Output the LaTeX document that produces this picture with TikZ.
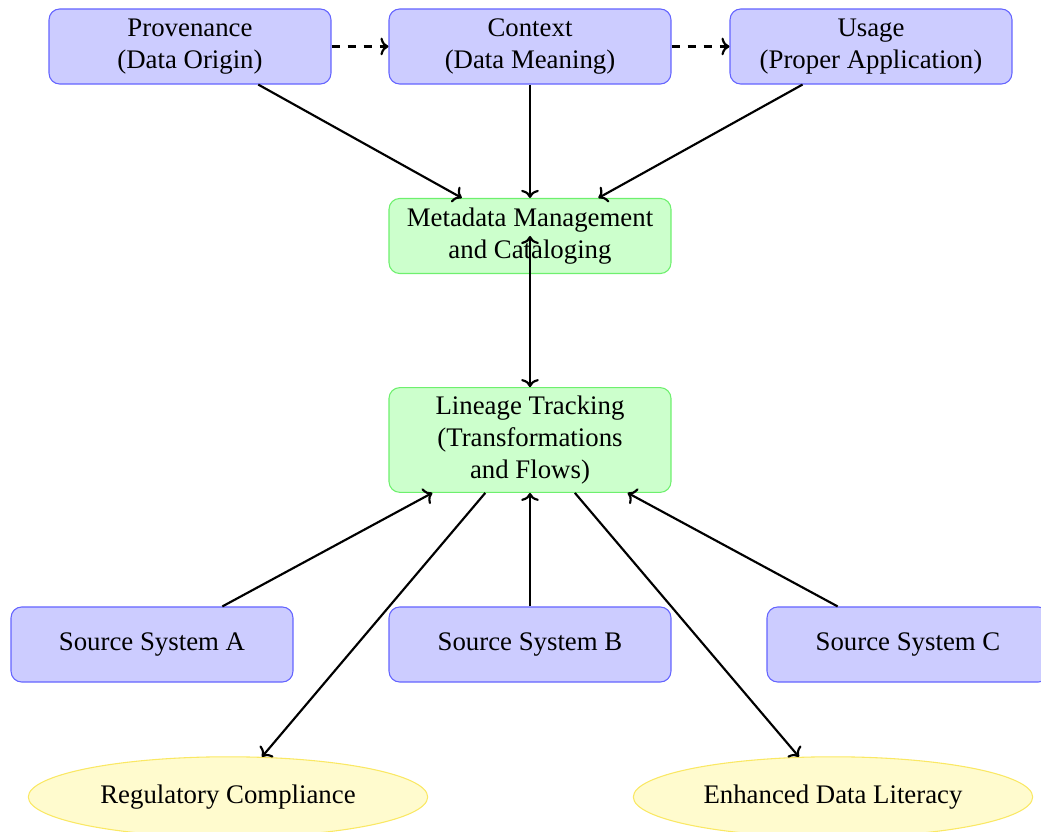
\documentclass[tikz,border=0pt]{standalone}
\usepackage{fontspec}
\setmainfont{Liberation Serif}
\usetikzlibrary{shapes.geometric,arrows.meta}
\definecolor{bluefill}{RGB}{204,204,255}
\definecolor{blueline}{RGB}{100,100,255}
\definecolor{greenfill}{RGB}{204,255,204}
\definecolor{greenline}{RGB}{110,240,110}
\definecolor{yellowfill}{RGB}{255,251,206}
\definecolor{yellowline}{RGB}{250,232,100}
\begin{document}
\begin{tikzpicture}[x=0.3731pt,y=-0.3731pt,
  box/.style={rectangle, rounded corners=4pt, align=center,
    minimum width=105.2pt, minimum height=28pt, inner xsep=2pt, inner ysep=3pt,
    font=\fontsize{10}{12}\selectfont},
  src/.style={box, draw=blueline, fill=bluefill},
  core/.style={box, draw=greenline, fill=greenfill},
  outcome/.style={ellipse, draw=yellowline, fill=yellowfill,
    minimum width=149pt, minimum height=30pt, inner sep=1pt,
    font=\fontsize{10}{12}\selectfont},
  tip/.style={-{To[length=3pt,width=6.6pt]}},
  flow/.style={tip, line width=0.8pt},
  link/.style={tip, line width=0.8pt, dashed}]
\useasboundingbox (0,0) rectangle (1041,832);

% top row: the three aspects of lineage
\node[src] (prov) at (190,46.5) {Provenance\\(Data Origin)};
\node[src] (ctx)  at (530,46.5) {Context\\(Data Meaning)};
\node[src] (use)  at (871,46.5) {Usage\\(Proper Application)};

% central processes
\node[core] (meta) at (530,236) {Metadata Management\\and Cataloging};
\node[core] (lin)  at (530,440) {Lineage Tracking\\(Transformations\\and Flows)};

% source systems
\node[src] (sa) at (152,644.5) {Source System A};
\node[src] (sb) at (530,644.5) {Source System B};
\node[src] (sc) at (908,644.5) {Source System C};

% outcomes
\node[outcome] (reg) at (228,797) {Regulatory Compliance};
\node[outcome] (lit) at (833,797) {Enhanced Data Literacy};

% connectors
\draw[link] (prov) -- (ctx);
\draw[link] (ctx) -- (use);
\draw[flow] (prov) -- (meta);
\draw[flow] (ctx) -- (meta);
\draw[flow] (use) -- (meta);
\draw[flow] (meta) -- (lin);
\draw[flow] (lin) -- (meta.center);
\draw[flow] (sa) -- (lin);
\draw[flow] (sb) -- (lin);
\draw[flow] (sc) -- (lin);
\draw[flow] (lin) -- (reg);
\draw[flow] (lin) -- (lit);
\end{tikzpicture}
\end{document}
